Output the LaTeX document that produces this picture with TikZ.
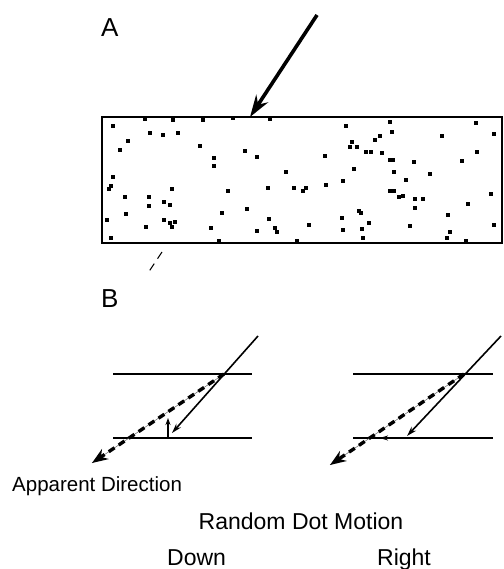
\documentclass[tikz,border=0pt]{standalone}
\usepackage{fontspec}
\setmainfont{Liberation Sans}
\usetikzlibrary{arrows.meta}
\begin{document}
\begin{tikzpicture}[x=1pt,y=-1pt,
  lbl/.style={font=\fontsize{23}{23}\selectfont,inner sep=0pt},
  panel/.style={font=\fontsize{26}{26}\selectfont,inner sep=0pt,anchor=base west},
  track/.style={line width=1.5pt},
  motion/.style={line width=1.6pt,-{Stealth[length=10pt,width=6pt]}},
  apparent/.style={line width=3.4pt,dash pattern=on 7pt off 5pt,-{Stealth[length=16pt,width=12pt]}},
  guide/.style={line width=0.5pt,black!60}]
  \useasboundingbox (0,0) rectangle (503,569);
  % panel A
  \node[panel] (labA) at (101,37) {A};
  \draw[line width=1.5pt] (102,117) rectangle (502,243);
  \foreach \x/\y in {113/126,145/119,173/120,203/120,233/118,270/119,150/133,163/135,178/133,
    128/141,120/150,200/146,245/151,214/158,214/166,257/157,286/172,113/177,111/186,109/189,
    125/197,149/197,149/206,164/202,170/205,172/189,228/191,268/188,294/188,306/188,303/191,
    326/185,343/181,126/214,107/220,146/227,164/220,170/223,175/222,172/227,211/228,222/213,
    247/209,269/219,257/231,275/228,277/232,309/225,342/218,343/230,359/211,361/213,369/223,
    362/229,363/238,111/238,219/241,297/241,346/126,390/122,392/132,375/140,380/136,352/142,
    350/147,357/147,366/152,371/152,382/153,390/160,393/160,394/172,414/162,430/174,406/180,
    390/191,394/191,399/197,403/196,415/199,423/199,415/208,410/226,448/215,450/232,447/238,
    466/241,468/204,491/194,494/225,442/136,476/123,494/134,477/152,462/161,325/156,354/169}
    \fill (\x-2,\y-2) rectangle ++(4,4);
  \coordinate (cueS) at (317,15);
  \coordinate (cueE) at (250,117);
  \draw[line width=3.6pt,-{Stealth[length=22pt,width=14pt]}] (cueS) -- (cueE);
  \coordinate (cutS) at (162,252);
  \coordinate (cutE) at (148,273);
  \draw[line width=1.1pt,dash pattern=on 8pt off 6pt] (cutS) -- (cutE);
  % panel B
  \node[panel] (labB) at (101,307) {B};
  % down
  \coordinate (dTopL) at (113,374);
  \coordinate (dTopR) at (252,374);
  \coordinate (dBotL) at (113,438);
  \coordinate (dBotR) at (252,438);
  \coordinate (dCross) at (224,374);
  \coordinate (dStart) at (258,336);
  \coordinate (dHit) at (172,433);
  \coordinate (dFoot) at (168,438);
  \coordinate (dUp) at (168,418);
  \coordinate (dEnd) at (92,463);
  \draw[track] (dTopL) -- (dTopR);
  \draw[track] (dBotL) -- (dBotR);
  \draw[motion] (dStart) -- (dHit);
  \draw[line width=1.3pt,-{Stealth[length=7pt,width=5pt]}] (dFoot) -- (dUp);
  \draw[guide] (dCross) -- (dEnd);
  \draw[apparent] (dCross) -- (dEnd);
  % right
  \coordinate (rTopL) at (353,374);
  \coordinate (rTopR) at (493,374);
  \coordinate (rBotL) at (353,438);
  \coordinate (rBotR) at (493,438);
  \coordinate (rCross) at (464,374);
  \coordinate (rStart) at (501,336);
  \coordinate (rHit) at (407,436);
  \coordinate (rFoot) at (407,438);
  \coordinate (rLeft) at (380,438);
  \coordinate (rEnd) at (330,465);
  \draw[track] (rTopL) -- (rTopR);
  \draw[track] (rBotL) -- (rFoot);
  \draw[track] (rFoot) -- (rBotR);
  \draw[motion] (rStart) -- (rHit);
  \draw[line width=1.3pt,-{Stealth[length=8pt,width=5pt]}] (rFoot) -- (rLeft);
  \draw[guide] (rCross) -- (rEnd);
  \draw[apparent] (rCross) -- (rEnd);
  % captions
  \node[lbl,font=\fontsize{20.5}{20.5}\selectfont,anchor=base west] (appDir) at (12,491) {Apparent Direction};
  \node[lbl,anchor=base] (rdm) at (301,529) {Random Dot Motion};
  \node[lbl,anchor=base west] (down) at (167,565) {Down};
  \node[lbl,anchor=base west] (right) at (377,565) {Right};
\end{tikzpicture}
\end{document}
